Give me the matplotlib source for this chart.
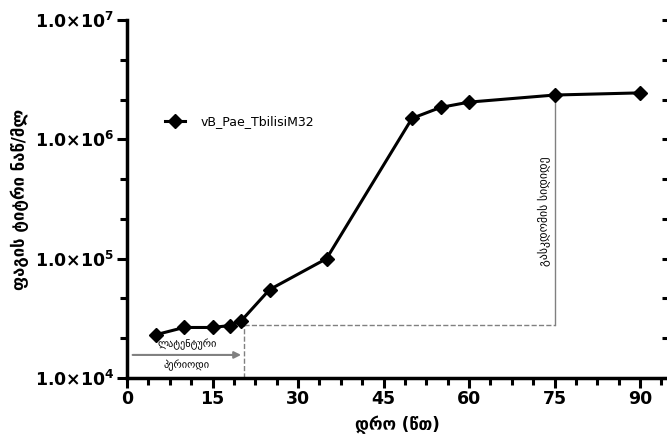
import matplotlib
matplotlib.use("Agg")
import matplotlib.pyplot as plt
from matplotlib.ticker import FixedLocator, MultipleLocator, NullFormatter

# one-step growth curve
time_min = [5, 10, 15, 18, 20, 25, 35, 50, 55, 60, 75, 90]
titer = [2.3e4, 2.65e4, 2.65e4, 2.75e4, 3.0e4, 5.5e4, 1.0e5, 1.5e6, 1.85e6, 2.05e6, 2.35e6, 2.45e6]
series_name = "vB_Pae_TbilisiM32"

x_ticks = [0, 15, 30, 45, 60, 75, 90]
y_ticks = [1e4, 1e5, 1e6, 1e7]
y_tick_labels = ["1.0×10$^{4}$", "1.0×10$^{5}$", "1.0×10$^{6}$", "1.0×10$^{7}$"]

latent_end = 20.5
burst_time = 75
baseline = 2.78e4

plt.rcParams["font.family"] = ["DejaVu Sans"]
plt.rcParams["mathtext.default"] = "regular"

fig = plt.figure(figsize=(6.67, 4.45), dpi=100)
ax = fig.add_axes([0.1904, 0.1506, 0.812, 0.8045])

ax.plot(time_min, titer, color="black", lw=2.2, marker="D", ms=7, label=series_name, zorder=3)

# latent period / burst size guides
ax.plot([latent_end, latent_end], [1e4, baseline], color="gray", lw=1, ls="--")
ax.plot([latent_end, burst_time], [baseline, baseline], color="gray", lw=1, ls="--")
ax.plot([burst_time, burst_time], [baseline, titer[10]], color="gray", lw=1)
ax.annotate("", xy=(latent_end, 1.56e4), xytext=(0.5, 1.56e4),
            arrowprops=dict(arrowstyle="-|>", color="gray", lw=1.5))
ax.text(10.5, 1.9e4, "ლატენტური", fontsize=7.5, ha="center", va="center")
ax.text(10.5, 1.27e4, "პერიოდი", fontsize=7.5, ha="center", va="center")
ax.text(burst_time - 0.6, 2.5e5, "გასკდომის სიდიდე", fontsize=8.5, rotation=90,
        ha="right", va="center")

ax.set_yscale("log")
ax.set_xlim(0, 95)
ax.set_ylim(1e4, 1e7)
ax.xaxis.set_major_locator(FixedLocator(x_ticks))
ax.xaxis.set_minor_locator(MultipleLocator(3.75))
ax.yaxis.set_major_locator(FixedLocator(y_ticks))
ax.set_yticklabels(y_tick_labels)
minor_y = [10 ** (k + f) for k in range(4, 7) for f in (1 / 3, 2 / 3)]
ax.yaxis.set_minor_locator(FixedLocator(minor_y))
ax.yaxis.set_minor_formatter(NullFormatter())

for lab in ax.get_xticklabels() + ax.get_yticklabels():
    lab.set_fontweight("bold")
    lab.set_fontsize(12.5)

ax.tick_params(which="major", length=7, width=2.2, pad=2)
ax.tick_params(which="minor", length=5, width=2.2)
for side in ["left", "bottom"]:
    ax.spines[side].set_linewidth(2.5)
ax.spines["top"].set_visible(False)
ax.spines["right"].set_visible(False)

# right-hand inward ticks (spine itself falls off the edge)
ax2 = ax.twinx()
ax2.set_yscale("log")
ax2.set_ylim(1e4, 1e7)
ax2.yaxis.set_major_locator(FixedLocator(y_ticks))
ax2.yaxis.set_minor_locator(FixedLocator(minor_y))
ax2.yaxis.set_major_formatter(NullFormatter())
ax2.yaxis.set_minor_formatter(NullFormatter())
ax2.tick_params(which="both", direction="in", length=5, width=2.2)
for side in ["top", "left", "bottom"]:
    ax2.spines[side].set_visible(False)

ax.set_xlabel("დრო (წთ)", fontsize=12, fontweight="bold", labelpad=5)
ax.set_ylabel("ფაგის ტიტრი ნაწ/მლ", fontsize=12, fontweight="bold", labelpad=4)

ax.legend(loc="center left", bbox_to_anchor=(0.05, 0.715), frameon=False,
          fontsize=9, handlelength=1.6, handletextpad=1.2)

fig.savefig("out.png", dpi=100)
